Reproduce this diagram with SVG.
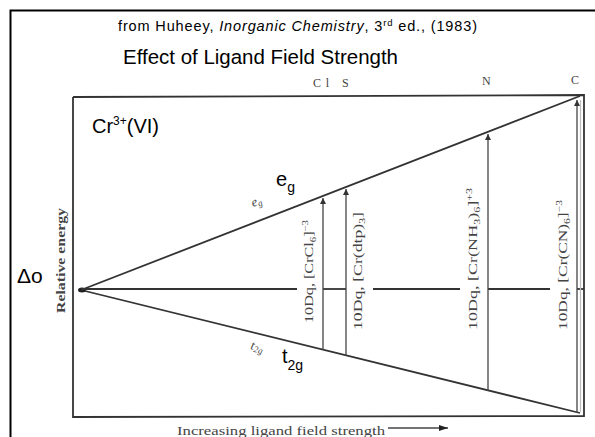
<svg xmlns="http://www.w3.org/2000/svg" width="595" height="437" viewBox="0 0 595 437">
<style>
.scan{stroke:#333;stroke-width:1.8;fill:none}
.thin{stroke:#444;stroke-width:1.3;fill:none}
.ov{font-family:"Liberation Sans",Arial,sans-serif;fill:#000}
.sc{font-family:"Liberation Serif","Times New Roman",serif;fill:#444}
</style>
<defs>
<marker id="up" markerWidth="6" markerHeight="6" refX="6" refY="3" orient="auto" markerUnits="userSpaceOnUse">
<path d="M0,0 L6,3 L0,6 z" fill="#333"/>
</marker>
<marker id="rt" markerWidth="9" markerHeight="6" refX="9" refY="3" orient="auto" markerUnits="userSpaceOnUse">
<path d="M0,0 L9,3 L0,6 z" fill="#222"/>
</marker>
</defs>
<rect x="0" y="0" width="595" height="437" fill="#fff"/>
<rect x="10.5" y="10.5" width="600" height="440" fill="none" stroke="#000" stroke-width="2"/>

<g id="frame">
<polyline class="scan" points="73,97 584,95 584,416 73,417 73,97"/>
</g>

<g id="connectors">
<line class="scan" x1="81" y1="290" x2="580" y2="96"/>
<line class="scan" x1="81" y1="290" x2="580" y2="413"/>
<ellipse cx="82" cy="290" rx="4" ry="2.5" fill="#222"/>
<line class="scan" x1="81" y1="289" x2="297" y2="289"/>
<line class="scan" x1="323" y1="289" x2="346" y2="289"/>
<line class="scan" x1="373" y1="289" x2="460" y2="289"/>
<line class="scan" x1="488" y1="289" x2="550" y2="289"/>
<line class="scan" x1="577" y1="289" x2="584" y2="289"/>
<line class="thin" x1="323" y1="350" x2="323" y2="198" marker-end="url(#up)"/>
<line class="thin" x1="346" y1="355.5" x2="346" y2="189" marker-end="url(#up)"/>
<line class="thin" x1="488" y1="391" x2="488" y2="134" marker-end="url(#up)"/>
<line class="thin" x1="577" y1="413" x2="577" y2="100" marker-end="url(#up)"/>
<line stroke="#bbb" stroke-width="1.2" x1="580.5" y1="100" x2="580.5" y2="412"/>
<line class="thin" x1="388" y1="428" x2="448" y2="428" marker-end="url(#rt)"/>
</g>

<g id="scan-labels">
<text class="sc" x="313" y="87" font-size="12" textLength="16">Cl</text>
<text class="sc" x="342" y="87" font-size="12">S</text>
<text class="sc" x="482" y="85" font-size="12">N</text>
<text class="sc" x="571" y="84" font-size="12">C</text>
<text class="sc" font-size="12" font-weight="bold" fill="#555" transform="translate(65,313) rotate(-90)" textLength="105" lengthAdjust="spacingAndGlyphs">Relative energy</text>
<text class="sc" x="177" y="435" font-size="12.5" fill="#333" textLength="208" lengthAdjust="spacingAndGlyphs">Increasing ligand field strength</text>
<text class="sc" font-size="13" font-style="italic" fill="#555" transform="translate(253,207) rotate(-21)">e<tspan font-size="9" dy="2">g</tspan></text>
<text class="sc" font-size="13" font-style="italic" fill="#555" transform="translate(250,349) rotate(14)">t<tspan font-size="9" dy="2">2g</tspan></text>
<text class="sc" font-size="12" transform="translate(313,323) rotate(-90)" textLength="103" lengthAdjust="spacingAndGlyphs">10Dq, [CrCl<tspan font-size="8" dy="3">6</tspan><tspan dy="-3">]</tspan><tspan font-size="8" dy="-5">−3</tspan></text>
<text class="sc" font-size="12" transform="translate(362,330) rotate(-90)" textLength="118" lengthAdjust="spacingAndGlyphs">10Dq, [Cr(dtp)<tspan font-size="8" dy="3">3</tspan><tspan dy="-3">]</tspan></text>
<text class="sc" font-size="12" transform="translate(477,330) rotate(-90)" textLength="142" lengthAdjust="spacingAndGlyphs">10Dq, [Cr(NH<tspan font-size="8" dy="3">3</tspan><tspan dy="-3">)</tspan><tspan font-size="8" dy="3">6</tspan><tspan dy="-3">]</tspan><tspan font-size="8" dy="-5">+3</tspan></text>
<text class="sc" font-size="12" transform="translate(567,330) rotate(-90)" textLength="130" lengthAdjust="spacingAndGlyphs">10Dq, [Cr(CN)<tspan font-size="8" dy="3">6</tspan><tspan dy="-3">]</tspan><tspan font-size="8" dy="-5">−3</tspan></text>
</g>

<g id="overlay">
<text class="ov" x="118" y="31" font-size="14.5" textLength="359">from Huheey, <tspan font-style="italic">Inorganic Chemistry</tspan>, 3<tspan font-size="9.5" dy="-5">rd</tspan><tspan dy="5"> ed., (1983)</tspan></text>
<text class="ov" x="123" y="64" font-size="20.5" textLength="275">Effect of Ligand Field Strength</text>
<text class="ov" x="92" y="133" font-size="20">Cr<tspan font-size="12" dy="-8">3+</tspan><tspan dy="8">(VI)</tspan></text>
<text class="ov" x="276" y="186" font-size="20">e<tspan font-size="14" dy="6">g</tspan></text>
<text class="ov" x="17" y="283" font-size="21">Δo</text>
<text class="ov" x="282" y="363" font-size="20">t<tspan font-size="14" dy="7">2g</tspan></text>
</g>
</svg>
